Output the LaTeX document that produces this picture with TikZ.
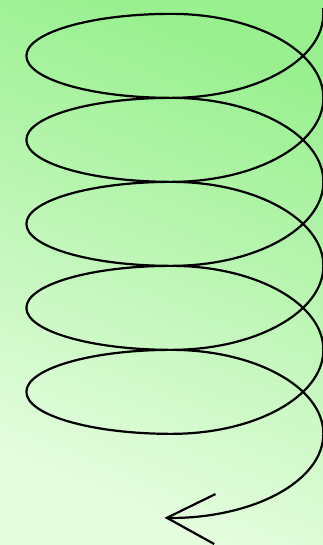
\documentclass[tikz,border=0pt]{standalone}
\usetikzlibrary{arrows.meta}
\definecolor{gtop}{RGB}{152,240,142}
\definecolor{gbot}{RGB}{230,253,224}
\tikzset{
  spring/.style={line width=2.2pt, black, line join=round},
  springtip/.style={-{Straight Barb[length=48pt,width=50pt,line width=2.2pt]}}
}
\begin{document}
\begin{tikzpicture}[x=1pt,y=1pt]
\useasboundingbox (0,0) rectangle (323,-545);
\shade[top color=gtop, bottom color=gbot, shading angle=-22] (0,0) rectangle (323,-545);
\draw[spring, springtip] (323,-8)
  arc[start angle=4, end angle=-90, x radius=152pt, y radius=84pt]
  % loop 1
  arc[start angle=-90, end angle=-270, x radius=145pt, y radius=42pt]
  arc[start angle=90, end angle=-90, x radius=152pt, y radius=84pt]
  % loop 2
  arc[start angle=-90, end angle=-270, x radius=145pt, y radius=42pt]
  arc[start angle=90, end angle=-90, x radius=152pt, y radius=84pt]
  % loop 3
  arc[start angle=-90, end angle=-270, x radius=145pt, y radius=42pt]
  arc[start angle=90, end angle=-90, x radius=152pt, y radius=84pt]
  % loop 4
  arc[start angle=-90, end angle=-270, x radius=145pt, y radius=42pt]
  arc[start angle=90, end angle=-90, x radius=152pt, y radius=84pt]
  % loop 5
  arc[start angle=-90, end angle=-270, x radius=145pt, y radius=42pt]
  arc[start angle=90, end angle=-92.6, x radius=152pt, y radius=84pt];
\end{tikzpicture}
\end{document}
